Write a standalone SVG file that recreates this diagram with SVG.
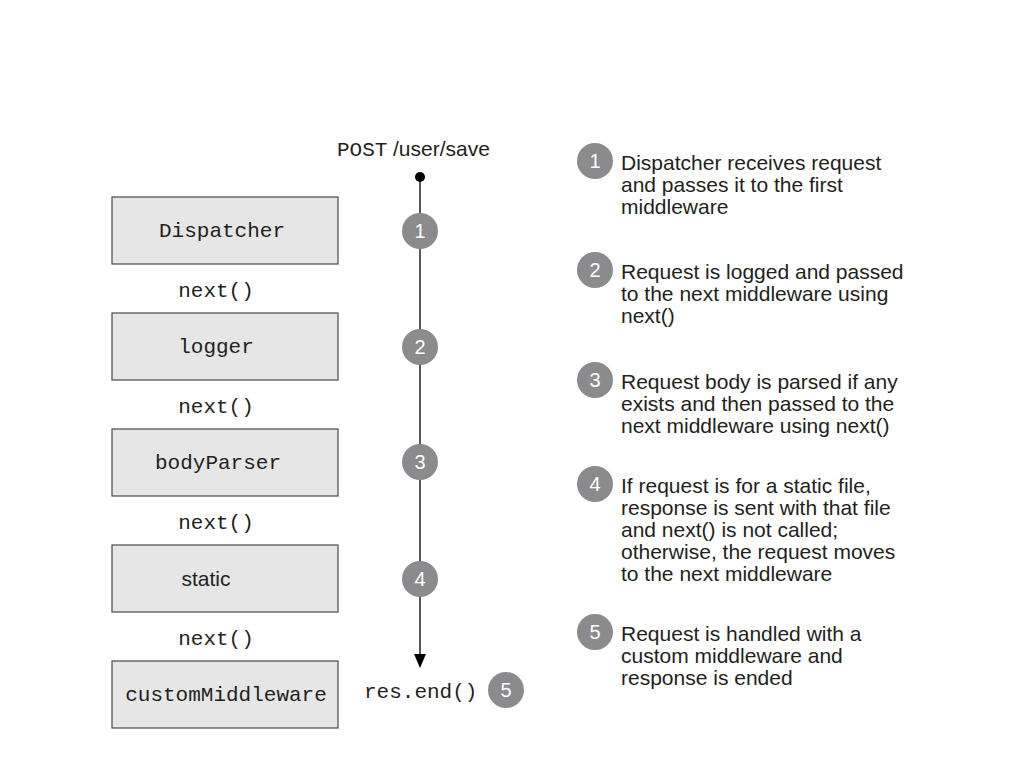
<svg xmlns="http://www.w3.org/2000/svg" width="1024" height="768" viewBox="0 0 1024 768">
<style>
.box{fill:#e6e6e6;stroke:#4a4a4a;stroke-width:1.2}
.mono{font-family:"Liberation Mono","Courier New",monospace;font-size:21px;fill:#231f20}
.sans{font-family:"Liberation Sans",Arial,sans-serif;font-size:21px;fill:#231f20}
.num{font-family:"Liberation Sans",Arial,sans-serif;font-size:20px;fill:#ffffff;text-anchor:middle}
.badge{fill:#8b8b8d}
.c{text-anchor:middle}
</style>
<defs>
<marker id="arr" viewBox="0 0 12 14" refX="6" refY="14" markerWidth="12" markerHeight="14" markerUnits="userSpaceOnUse" orient="auto-start-reverse">
<path d="M0,0 L12,0 L6,14 Z" fill="#000"/>
</marker>
</defs>
<rect width="1024" height="768" fill="#fff"/>

<g id="connectors">
<line x1="420" y1="177" x2="420" y2="654" stroke="#000" stroke-width="1.3"/>
<path d="M414,654 L426,654 L420,668 Z" fill="#000"/>
<circle cx="420" cy="177" r="5" fill="#000"/>
<text class="mono" x="337" y="156">POST</text><text class="sans" x="393" y="156">/user/save</text>
<text class="mono c" x="216" y="297">next()</text>
<text class="mono c" x="216" y="413">next()</text>
<text class="mono c" x="216" y="529">next()</text>
<text class="mono c" x="216" y="645">next()</text>
<text class="mono" x="364" y="698">res.end()</text>
</g>

<g id="steps">
<circle class="badge" cx="420" cy="231" r="18"/><text class="num" x="420" y="238">1</text>
<circle class="badge" cx="420" cy="347" r="18"/><text class="num" x="420" y="354">2</text>
<circle class="badge" cx="420" cy="462" r="18"/><text class="num" x="420" y="469">3</text>
<circle class="badge" cx="420" cy="579" r="18"/><text class="num" x="420" y="586">4</text>
<circle class="badge" cx="506" cy="690" r="18"/><text class="num" x="506" y="697">5</text>
</g>

<g id="node-dispatcher"><rect class="box" x="112" y="197" width="226" height="67"/><text class="mono c" x="222" y="237">Dispatcher</text></g>
<g id="node-logger"><rect class="box" x="112" y="313" width="226" height="67"/><text class="mono c" x="216" y="353">logger</text></g>
<g id="node-bodyparser"><rect class="box" x="112" y="429" width="226" height="67"/><text class="mono c" x="218" y="469">bodyParser</text></g>
<g id="node-static"><rect class="box" x="112" y="545" width="226" height="67"/><text class="sans c" x="206" y="586">static</text></g>
<g id="node-custom"><rect class="box" x="112" y="661" width="226" height="67"/><text class="mono c" x="226" y="701">customMiddleware</text></g>

<g id="legend">
<circle class="badge" cx="595" cy="161" r="18"/><text class="num" x="595" y="168">1</text>
<text class="sans" x="621" y="170">Dispatcher receives request</text>
<text class="sans" x="621" y="192">and passes it to the first</text>
<text class="sans" x="621" y="214">middleware</text>

<circle class="badge" cx="595" cy="270" r="18"/><text class="num" x="595" y="277">2</text>
<text class="sans" x="621" y="279">Request is logged and passed</text>
<text class="sans" x="621" y="301">to the next middleware using</text>
<text class="sans" x="621" y="323">next()</text>

<circle class="badge" cx="595" cy="380" r="18"/><text class="num" x="595" y="387">3</text>
<text class="sans" x="621" y="389">Request body is parsed if any</text>
<text class="sans" x="621" y="411">exists and then passed to the</text>
<text class="sans" x="621" y="433">next middleware using next()</text>

<circle class="badge" cx="595" cy="484" r="18"/><text class="num" x="595" y="491">4</text>
<text class="sans" x="621" y="493">If request is for a static file,</text>
<text class="sans" x="621" y="515">response is sent with that file</text>
<text class="sans" x="621" y="537">and next() is not called;</text>
<text class="sans" x="621" y="559">otherwise, the request moves</text>
<text class="sans" x="621" y="581">to the next middleware</text>

<circle class="badge" cx="595" cy="632" r="18"/><text class="num" x="595" y="639">5</text>
<text class="sans" x="621" y="641">Request is handled with a</text>
<text class="sans" x="621" y="663">custom middleware and</text>
<text class="sans" x="621" y="685">response is ended</text>
</g>
</svg>
